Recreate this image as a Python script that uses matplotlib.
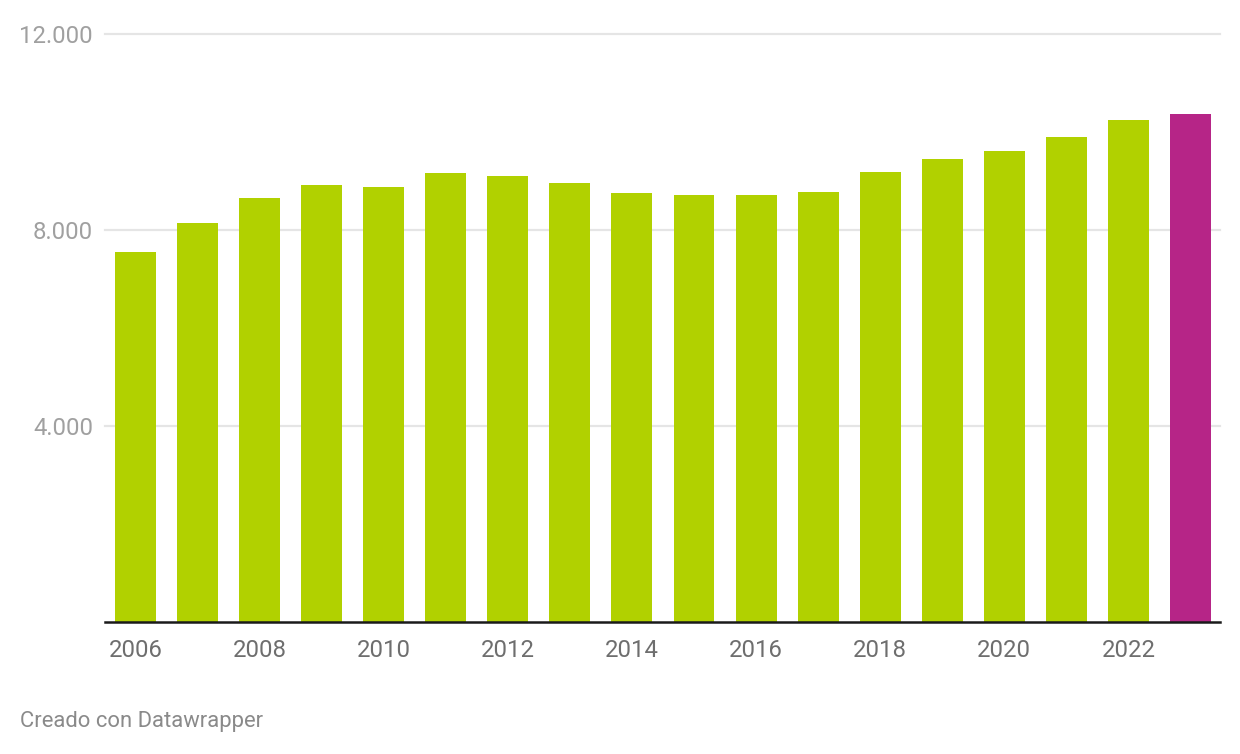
import matplotlib
matplotlib.use("Agg")
import matplotlib.pyplot as plt

years = list(range(2006, 2024))
values = [7545, 8137, 8647, 8912, 8872, 9157, 9096, 8953, 8749, 8708,
          8708, 8770, 9177, 9443, 9606, 9892, 10239, 10361]
highlight_year = 2023
y_ticks = [4000, 8000, 12000]
y_tick_labels = ["4.000", "8.000", "12.000"]
x_tick_years = list(range(2006, 2023, 2))
credit = "Creado con Datawrapper"

GREEN = "#b1d100"
MAGENTA = "#b62587"

plt.rcParams["font.family"] = ["Roboto", "DejaVu Sans"]

W, H = 1240, 754
fig = plt.figure(figsize=(W / 100, H / 100), dpi=100)
ax = fig.add_axes([105 / W, 132 / H, (1220 - 105) / W, (720.3 - 132) / H])

colors = [MAGENTA if y == highlight_year else GREEN for y in years]
ax.bar(years, values, width=0.66, color=colors, zorder=3)

ax.set_xlim(years[0] - 0.49, years[-1] + 0.475)
ax.set_ylim(0, 12000)

for t in y_ticks:
    ax.axhline(t, color="#e5e5e5", lw=1.6, zorder=1, clip_on=False)
ax.axhline(0, color="#1a1a1a", lw=1.8, zorder=4, clip_on=False)

ax.set_yticks(y_ticks)
ax.set_yticklabels(y_tick_labels)
ax.set_xticks(x_tick_years)
ax.set_xticklabels([str(y) for y in x_tick_years])

ax.tick_params(axis="y", length=0, pad=8.6, labelsize=17.2, labelcolor="#a0a0a0")
ax.tick_params(axis="x", length=0, pad=12.5, labelsize=17.2, labelcolor="#6e6e6e")

for s in ax.spines.values():
    s.set_visible(False)

fig.text(20 / W, 1 - 721 / H, credit, fontsize=15.8, color="#8a8a8a",
         ha="left", va="center")

fig.savefig("out.png", dpi=100)
